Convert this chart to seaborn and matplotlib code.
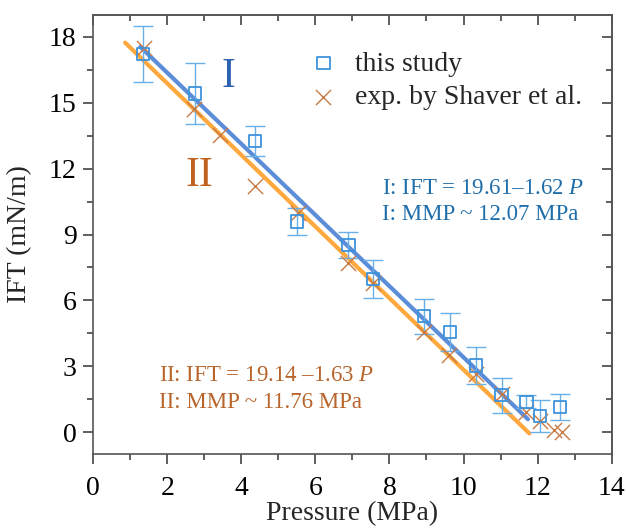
import matplotlib
matplotlib.use("Agg")
import matplotlib.pyplot as plt
import seaborn as sns
import pandas as pd
from matplotlib.ticker import MultipleLocator

# ---- data ----
p_this = [1.34, 2.75, 4.37, 5.51, 6.89, 7.56, 8.94, 9.63, 10.33, 11.03, 11.70, 12.06, 12.60]
ift_this = [17.22, 15.43, 13.27, 9.60, 8.52, 6.98, 5.28, 4.56, 3.04, 1.68, 1.38, 0.74, 1.15]
err_this = [1.27, 1.40, 0.67, 0.62, 0.58, 0.85, 0.80, 0.88, 0.85, 0.80, 0.30, 0.73, 0.60]

p_shaver = [1.36, 2.73, 3.42, 4.37, 5.54, 6.89, 7.55, 8.94, 9.60, 10.33, 11.03, 11.70, 12.06, 12.45, 12.65]
ift_shaver = [17.50, 14.70, 13.53, 11.19, 9.98, 7.70, 6.80, 4.55, 3.50, 2.63, 1.73, 0.92, 0.51, 0.10, 0.02]

fit_I_p = [1.27, 11.74]
fit_I_ift = [17.55, 0.59]
fit_II_p = [0.86, 11.78]
fit_II_ift = [17.74, -0.06]

legend_labels = ["this study", "exp. by Shaver et al."]
eq_I = ["I: IFT = 19.61\u20131.62 $\\mathit{P}$", "I: MMP ~ 12.07 MPa"]
eq_II = ["II: IFT = 19.14 \u20131.63 $\\mathit{P}$", "II: MMP ~ 11.76 MPa"]

# ---- style ----
sns.set_theme(style="ticks")
plt.rcParams["font.family"] = ["Liberation Serif", "DejaVu Serif"]
plt.rcParams["mathtext.fontset"] = "custom"
plt.rcParams["mathtext.it"] = "Liberation Serif:italic"
plt.rcParams["mathtext.rm"] = "Liberation Serif"

blue_line = "#5b8dd9"
orange_line = "#ffa83d"
sq_col = "#3d93db"
err_col = "#6ab0e8"
cross_col = "#c87a45"
spine_col = "#555555"

fig = plt.figure(figsize=(6.26, 5.28), dpi=100)
ax = fig.add_axes([0.149, 0.140, 0.828, 0.8316])

df_fitI = pd.DataFrame({"P": fit_I_p, "IFT": fit_I_ift})
df_fitII = pd.DataFrame({"P": fit_II_p, "IFT": fit_II_ift})
sns.lineplot(data=df_fitII, x="P", y="IFT", color=orange_line, lw=3.0, ax=ax, zorder=2)
sns.lineplot(data=df_fitI, x="P", y="IFT", color=blue_line, lw=3.0, ax=ax, zorder=2.1)

ax.errorbar(p_this, ift_this, yerr=err_this, fmt="none", ecolor=err_col,
            elinewidth=1.0, capsize=7.5, capthick=1.0, zorder=3)

df_this = pd.DataFrame({"P": p_this, "IFT": ift_this})
df_sh = pd.DataFrame({"P": p_shaver, "IFT": ift_shaver})
sns.scatterplot(data=df_sh, x="P", y="IFT", marker="x", s=120, color=cross_col,
                linewidth=1.0, ax=ax, zorder=4, label=legend_labels[1])
sns.scatterplot(data=df_this, x="P", y="IFT", marker="s", s=80, facecolor="none",
                edgecolor=sq_col, linewidth=1.3, ax=ax, zorder=5, label=legend_labels[0])

handles, labels = ax.get_legend_handles_labels()
order = [labels.index(legend_labels[0]), labels.index(legend_labels[1])]
ax.legend([handles[i] for i in order], [labels[i] for i in order],
          loc="upper left", bbox_to_anchor=(0.397, 0.943), frameon=False,
          fontsize=20, handlelength=0.95, handletextpad=0.68, labelspacing=0.28,
          borderpad=0.4, borderaxespad=0)

ax.text(3.64, 16.17, "I", color="#2d62b3", fontsize=30, ha="center", va="center")
ax.text(2.86, 11.67, "II", color="#c0611e", fontsize=30, ha="center", va="center")
ax.text(7.79, 11.10, eq_I[0], color="#1f6eaa", fontsize=16.5, ha="left", va="center")
ax.text(7.79, 9.92, eq_I[1], color="#1f6eaa", fontsize=16.5, ha="left", va="center")
ax.text(1.78, 2.58, eq_II[0], color="#b8642a", fontsize=16.5, ha="left", va="center")
ax.text(1.78, 1.33, eq_II[1], color="#b8642a", fontsize=16.5, ha="left", va="center")

ax.set_xlim(0, 14)
ax.set_ylim(-1, 19)
ax.xaxis.set_major_locator(MultipleLocator(2))
ax.xaxis.set_minor_locator(MultipleLocator(1))
ax.yaxis.set_major_locator(MultipleLocator(3))
ax.yaxis.set_minor_locator(MultipleLocator(1.5))

for s in ax.spines.values():
    s.set_visible(True)
    s.set_color(spine_col)
    s.set_linewidth(1.2)

ax.tick_params(axis="both", which="both", colors="#333333", labelcolor="black")
ax.tick_params(axis="x", which="major", direction="out", length=7, width=1.1,
               labelsize=20, pad=9)
ax.tick_params(axis="x", which="minor", direction="out", length=4, width=1.1)
ax.tick_params(axis="y", which="major", direction="out", length=7, width=1.1,
               labelsize=20, pad=5)
ax.tick_params(axis="y", which="minor", direction="out", length=4, width=1.1)
ax.tick_params(top=False, right=False, which="both")

# top/right ticks point inward
secx = ax.secondary_xaxis("top")
secx.xaxis.set_major_locator(MultipleLocator(2))
secx.xaxis.set_minor_locator(MultipleLocator(1))
secx.tick_params(which="major", direction="in", length=7, width=1.1, colors="#333333", labeltop=False)
secx.tick_params(which="minor", direction="in", length=4, width=1.1, colors="#333333")
secx.spines["top"].set_color(spine_col)
secx.spines["top"].set_linewidth(1.2)
secy = ax.secondary_yaxis("right")
secy.yaxis.set_major_locator(MultipleLocator(3))
secy.yaxis.set_minor_locator(MultipleLocator(1.5))
secy.tick_params(which="major", direction="in", length=7, width=1.1, colors="#333333", labelright=False)
secy.tick_params(which="minor", direction="in", length=4, width=1.1, colors="#333333")
secy.spines["right"].set_color(spine_col)
secy.spines["right"].set_linewidth(1.2)

ax.set_xlabel("Pressure (MPa)", fontsize=20)
ax.set_ylabel("IFT (mN/m)", fontsize=20)
ax.xaxis.set_label_coords(0.5, -0.108)
ax.yaxis.set_label_coords(-0.118, 0.5)

fig.savefig("out.png", dpi=100)
